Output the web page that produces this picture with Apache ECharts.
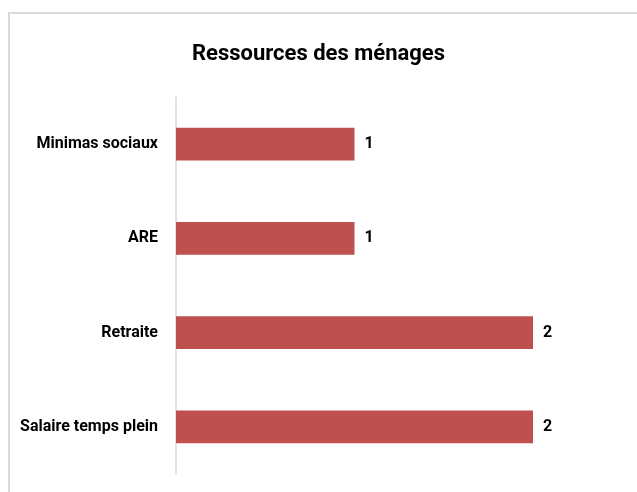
<!DOCTYPE html>
<html>
<head>
<meta charset="utf-8">
<script src="https://cdn.jsdelivr.net/npm/echarts@6/dist/echarts.min.js"></script>
<style>
    html, body { margin: 0; padding: 0; background: #fff; overflow: hidden; }
    #frame {
        position: absolute; left: 8px; top: 12px; width: 700px; height: 560px;
        border: 2px solid #d9d9d9; box-sizing: border-box;
    }
    #chart { position: absolute; left: 0; top: 0; width: 637px; height: 492px; }
</style>
</head>
<body>
<div id="frame"></div>
<div id="chart"></div>
<script>
const categories = ["Salaire temps plein", "Retraite", "ARE", "Minimas sociaux"];
const counts = [2, 2, 1, 1];

const FONT = 'Roboto, "Open Sans", sans-serif';

const chart = echarts.init(document.getElementById("chart"));

chart.setOption({
    animation: false,
    title: {
        text: "Ressources des ménages",
        left: "center",
        top: 38,
        textStyle: {
            fontFamily: FONT,
            fontWeight: "bold",
            fontSize: 22,
            color: "#000",
        },
    },
    grid: {
        top: 97,
        bottom: 18,
        left: 176,
        right: 104,
    },
    xAxis: {
        type: "value",
        min: 0,
        max: 2,
        show: false,
    },
    yAxis: {
        type: "category",
        data: categories,
        axisLine: {
            lineStyle: { color: "#d9d9d9", width: 1.5 },
        },
        axisTick: { show: false },
        axisLabel: {
            color: "#000",
            fontFamily: FONT,
            fontWeight: "bold",
            fontSize: 16,
            margin: 18,
        },
    },
    series: [
        {
            type: "bar",
            data: counts,
            barCategoryGap: "65%",
            itemStyle: { color: "#c0504d" },
            label: {
                show: true,
                position: "right",
                distance: 10,
                color: "#000",
                fontFamily: FONT,
                fontWeight: "bold",
                fontSize: 16,
            },
        },
    ],
});
</script>
</body>
</html>
